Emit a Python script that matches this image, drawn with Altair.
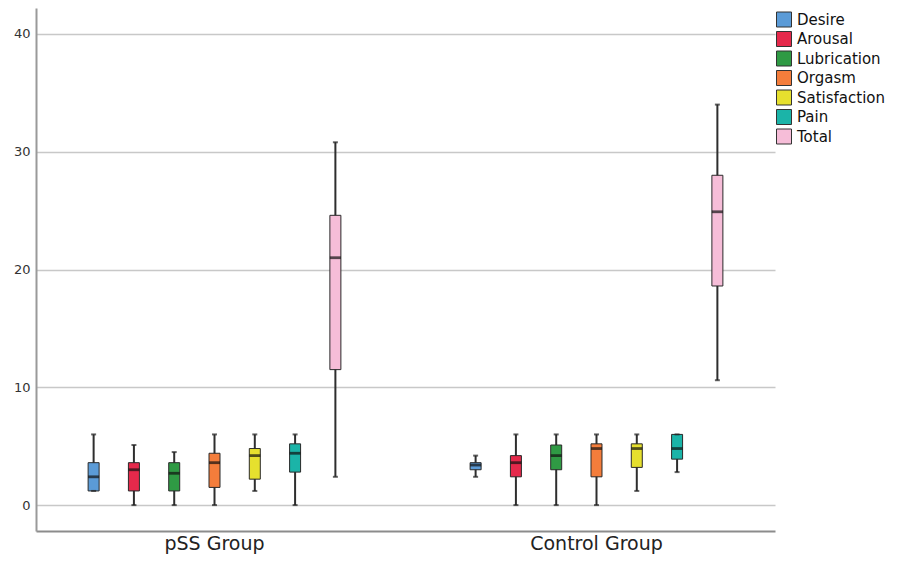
import altair as alt
import pandas as pd

groups = ["pSS Group", "Control Group"]
variables = ["Desire", "Arousal", "Lubrication", "Orgasm", "Satisfaction", "Pain", "Total"]
colors = ["#5b9bd7", "#e5294b", "#2f9a44", "#f47d3b", "#e6e02e", "#1bb4a8", "#f6bdd8"]

pss_min = [1.2, 0.0, 0.0, 0.0, 1.2, 0.0, 2.4]
pss_q1 = [1.2, 1.2, 1.2, 1.5, 2.2, 2.8, 11.5]
pss_med = [2.4, 3.0, 2.7, 3.6, 4.2, 4.4, 21.0]
pss_q3 = [3.6, 3.6, 3.6, 4.4, 4.8, 5.2, 24.6]
pss_max = [6.0, 5.1, 4.5, 6.0, 6.0, 6.0, 30.8]

ctrl_min = [2.4, 0.0, 0.0, 0.0, 1.2, 2.8, 10.6]
ctrl_q1 = [3.0, 2.4, 3.0, 2.4, 3.2, 3.9, 18.6]
ctrl_med = [3.4, 3.6, 4.2, 4.8, 4.8, 4.8, 24.9]
ctrl_q3 = [3.6, 4.2, 5.1, 5.2, 5.2, 6.0, 28.0]
ctrl_max = [4.2, 6.0, 6.0, 6.0, 6.0, 6.0, 34.0]

y_ticks = [0, 10, 20, 30, 40]

rows = []
for g, (mn, q1, md, q3, mx) in zip(groups, [
    (pss_min, pss_q1, pss_med, pss_q3, pss_max),
    (ctrl_min, ctrl_q1, ctrl_med, ctrl_q3, ctrl_max),
]):
    for i, v in enumerate(variables):
        rows.append({"group": g, "variable": v, "lo": mn[i], "q1": q1[i],
                     "med": md[i], "q3": q3[i], "hi": mx[i]})
df = pd.DataFrame(rows)

yscale = alt.Scale(domain=[-2.2, 42.2], nice=False, zero=False)

base = alt.Chart(df).encode(
    x=alt.X("group:N", sort=groups,
            scale=alt.Scale(paddingInner=0.0654, paddingOuter=0),
            axis=alt.Axis(title=None, labelAngle=0, ticks=False, labelFontSize=19,
                          labelPadding=3, labelColor="#222", domainColor="#8c8c8c",
                          domainWidth=2, grid=False)),
    xOffset=alt.XOffset("variable:N", sort=variables,
                        scale=alt.Scale(paddingInner=0.14, paddingOuter=1.0)),
)

whisk = base.mark_rule(color="#2e2e2e", strokeWidth=2).encode(
    y=alt.Y("lo:Q", scale=yscale,
            axis=alt.Axis(title=None, values=y_ticks, ticks=False, labelFontSize=13,
                          labelPadding=6, labelColor="#333", domainColor="#9a9a9a",
                          domainWidth=2, grid=True, gridColor="#c8c8c8", gridWidth=1.5)),
    y2="hi:Q",
)

box = base.mark_bar(stroke="#2a2a2a", strokeWidth=1, opacity=1, size=11).encode(
    y=alt.Y("q1:Q", scale=yscale),
    y2="q3:Q",
    color=alt.Color("variable:N", sort=variables,
                    scale=alt.Scale(domain=variables, range=colors),
                    legend=alt.Legend(title=None, orient="none", legendX=740, legendY=3.5,
                                      symbolType="square", symbolSize=225,
                                      symbolStrokeColor="#333", symbolStrokeWidth=1,
                                      symbolOpacity=1, labelFontSize=15, labelColor="#111",
                                      labelOffset=5, rowPadding=-0.5, padding=0)),
)

med = base.mark_tick(color="#111111", thickness=2.8, size=11).encode(
    y=alt.Y("med:Q", scale=yscale))
cap_hi = base.mark_tick(color="#222222", thickness=2, size=5).encode(
    y=alt.Y("hi:Q", scale=yscale))
cap_lo = base.mark_tick(color="#222222", thickness=2, size=5).encode(
    y=alt.Y("lo:Q", scale=yscale))

chart = alt.layer(whisk, box, med, cap_hi, cap_lo).properties(
    width=739, height=523,
    autosize=alt.AutoSizeParams(type="none"),
    padding={"left": 28, "top": 0, "right": 115, "bottom": 24},
).configure(font="DejaVu Sans").configure_view(stroke=None)

chart.save("out.html", embed_options={"renderer": "svg", "actions": False})
